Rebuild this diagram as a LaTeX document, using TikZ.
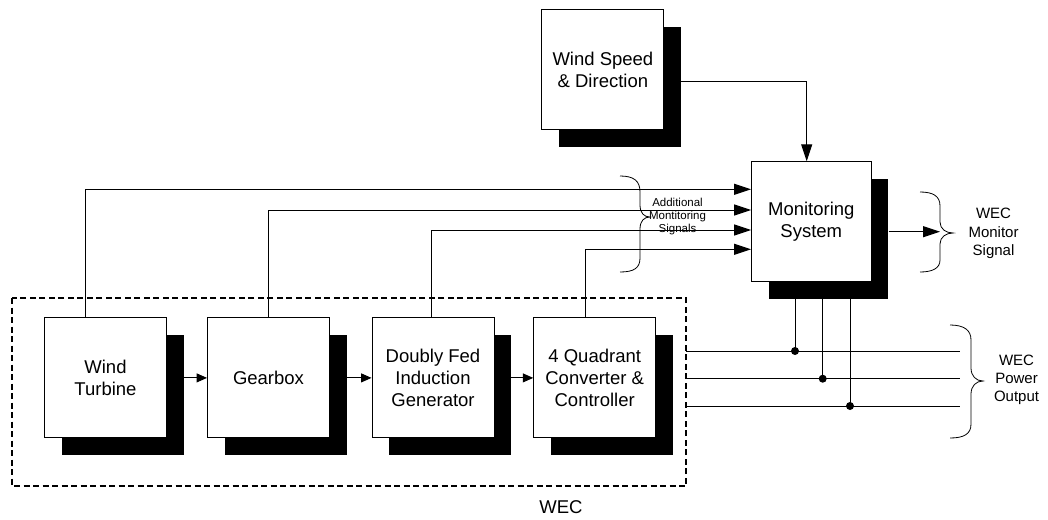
\documentclass[tikz,border=0pt]{standalone}
\usepackage{fontspec}
\setmainfont{Liberation Sans}
\usetikzlibrary{arrows.meta,shadows,calc}
\begin{document}
\begin{tikzpicture}[x=1pt,y=-1pt,
  blk/.style={draw=black, line width=0.9pt, fill=white, minimum width=122pt, minimum height=120pt,
    align=center, inner sep=2pt, font=\fontsize{18.5}{22.3}\selectfont,
    drop shadow={shadow xshift=17pt, shadow yshift=-17pt, opacity=1, fill=black, draw=none}},
  wire/.style={line width=1pt, draw=black},
  bigarr/.style={wire, -{Triangle[length=17pt,width=11pt]}},
  smallarr/.style={wire, -{Triangle[length=10.5pt,width=9pt]}},
  brc/.style={line width=0.8pt, draw=black},
  lbl/.style={align=center, inner sep=0pt, font=\fontsize{15}{18.2}\selectfont},
  smalllbl/.style={align=center, inner sep=0pt, font=\fontsize{11.5}{13.3}\selectfont},
  wecbox/.style={line width=2pt, dash pattern=on 6pt off 3.5pt},
  dot/.style={fill=black}]
\useasboundingbox (0,0) rectangle (1048,519);

% WEC dashed boundary
\draw[wecbox] (12,298) rectangle (686,486);
\node[inner sep=0pt, font=\fontsize{18.5}{22}\selectfont] (weclbl) at (561,507.5) {WEC};

% blocks
\node[blk] (ws)   at (602.9,69.7)  {Wind Speed\\\& Direction};
\node[blk, minimum width=119.5pt] (ms) at (811.3,221.7) {Monitoring\\System};
\node[blk] (wt)   at (105.5,377.9) {Wind\\Turbine};
\node[blk] (gb)   at (268.5,377.9) {Gearbox};
\node[blk] (dfig) at (433,377.9)   {Doubly Fed\\Induction\\Generator};
\node[blk] (conv) at (594.7,377.9) {4 Quadrant\\Converter \&\\Controller};

% chain arrows
\draw[smallarr] ([xshift=17pt]wt.east) -- (gb.west);
\draw[smallarr] ([xshift=17pt]gb.east) -- (dfig.west);
\draw[smallarr] ([xshift=17pt]dfig.east) -- (conv.west);

% monitoring inputs
\draw[bigarr] ([xshift=-20.5pt]wt.north) |- ([yshift=32.4pt]ms.west);
\draw[bigarr] (gb.north) |- ([yshift=11.7pt]ms.west);
\draw[bigarr] ([xshift=-1.3pt]dfig.north) |- ([yshift=-8.3pt]ms.west);
\draw[bigarr] ([xshift=-9.7pt]conv.north) |- ([yshift=-27.6pt]ms.west);
\draw[bigarr] ([xshift=17pt,yshift=-11.3pt]ws.east) -| ([xshift=-4.6pt]ms.north);

% additional monitoring signals brace
\draw[brc] (620,176) .. controls (634,176) and (640,181) .. (640,192) -- (640,205)
  .. controls (640,213) and (644,217) .. (650,217)
  .. controls (644,217) and (640,221) .. (640,229) -- (640,258)
  .. controls (640,268) and (634,272) .. (620,272);
\node[smalllbl] (addl) at (677.5,216.7) {Additional\\Montitoring\\Signals};

% monitor signal output
\coordinate (msout) at (940,231.7);
\draw[bigarr] ([xshift=17pt,yshift=-10pt]ms.east) -- (msout);
\draw[brc] (920,192) .. controls (933,192) and (940,196) .. (940,206) -- (940,222)
  .. controls (940,229) and (946,233) .. (953,233)
  .. controls (946,233) and (940,237) .. (940,244) -- (940,260)
  .. controls (940,268) and (933,272) .. (920,272);
\node[lbl] (msl) at (993.5,233.5) {WEC\\Monitor\\Signal};

% power output lines
\coordinate (p1a) at (686,351);   \coordinate (p1b) at (960,351);
\coordinate (p2a) at (686,378.7); \coordinate (p2b) at (960,378.7);
\coordinate (p3a) at (686,406);   \coordinate (p3b) at (960,406);
\coordinate (d1) at (795,351);
\coordinate (d2) at (822.7,378.7);
\coordinate (d3) at (850,406);
\draw[wire] (p1a) -- (p1b);
\draw[wire] (p2a) -- (p2b);
\draw[wire] (p3a) -- (p3b);
\draw[wire] (ms.south -| d1) -- (d1);
\draw[wire] (ms.south -| d2) -- (d2);
\draw[wire] (ms.south -| d3) -- (d3);
\fill[dot] (d1) circle (4pt);
\fill[dot] (d2) circle (4pt);
\fill[dot] (d3) circle (4pt);

\draw[brc] (950,325) .. controls (964,325) and (971,330) .. (971,340) -- (971,368)
  .. controls (971,376) and (976,381) .. (983,381)
  .. controls (976,381) and (971,386) .. (971,394) -- (971,424)
  .. controls (971,434) and (964,438) .. (950,438);
\node[lbl] (pol) at (1016.5,380) {WEC\\Power\\Output};
\end{tikzpicture}
\end{document}
